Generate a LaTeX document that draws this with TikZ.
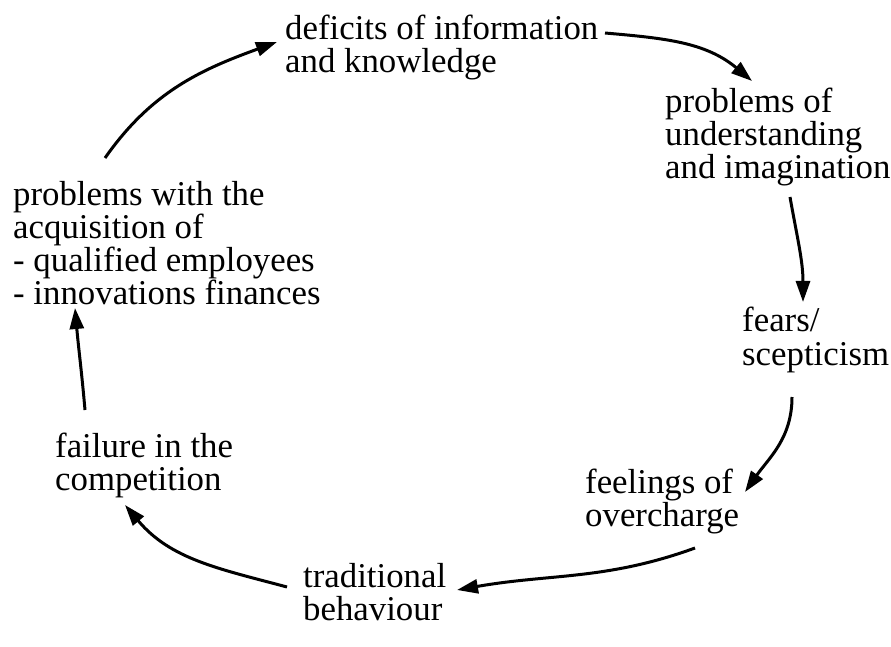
\documentclass[tikz,border=0pt]{standalone}
\usepackage{fontspec}
\setmainfont{Liberation Serif}
\usetikzlibrary{arrows.meta}
\tikzset{
    cyclenode/.style = {
        align=left,
        inner sep=0pt,
        anchor=base west,
        font=\fontsize{34.8}{33}\selectfont
    },
    cyclearrow/.style = {
        -{Triangle[length=21pt,width=14pt]},
        line width=3pt
    }
}
\begin{document}
\begin{tikzpicture}[x=1pt,y=1pt]
            \useasboundingbox (0,0) rectangle (891,646);
            % the seven stages of the cycle
            \node [cyclenode] (defic) at (285,573) {deficits of information\\and knowledge};
            \node [cyclenode] (undst) at (665,467) {problems of\\understanding\\and imagination};
            \node [cyclenode] (fears) at (742,281) {fears/\\scepticism};
            \node [cyclenode] (feel)  at (585,120) {feelings of\\overcharge};
            \node [cyclenode] (trad)  at (303,26)  {traditional\\behaviour};
            \node [cyclenode] (fail)  at (55,156)  {failure in the\\competition};
            \node [cyclenode] (acq)   at (13,341)  {problems with the\\acquisition of\\- qualified employees\\- innovations finances};
            % arrows between the stages
            \draw [cyclearrow] ([shift={(92pt,147pt)}]acq.base west) to[out=55,in=200] ([shift={(-8pt,31pt)}]defic.base west);
            \draw [cyclearrow] ([shift={(320pt,40pt)}]defic.base west) to[out=-5,in=140] ([shift={(87pt,98pt)}]undst.base west);
            \draw [cyclearrow] ([shift={(125pt,-18pt)}]undst.base west) to[out=-80,in=90] ([shift={(61pt,63pt)}]fears.base west);
            \draw [cyclearrow] ([shift={(50pt,-32pt)}]fears.base west) to[out=-90,in=55] ([shift={(160pt,34pt)}]feel.base west);
            \draw [cyclearrow] ([shift={(110pt,-22pt)}]feel.base west) to[out=200,in=10] ([shift={(154pt,30pt)}]trad.base west);
            \draw [cyclearrow] ([shift={(-16pt,33pt)}]trad.base west) to[out=165,in=-50] ([shift={(70pt,-15pt)}]fail.base west);
            \draw [cyclearrow] ([shift={(30pt,80pt)}]fail.base west) to[out=95,in=-85] ([shift={(62pt,-3pt)}]acq.base west);
\end{tikzpicture}
\end{document}
